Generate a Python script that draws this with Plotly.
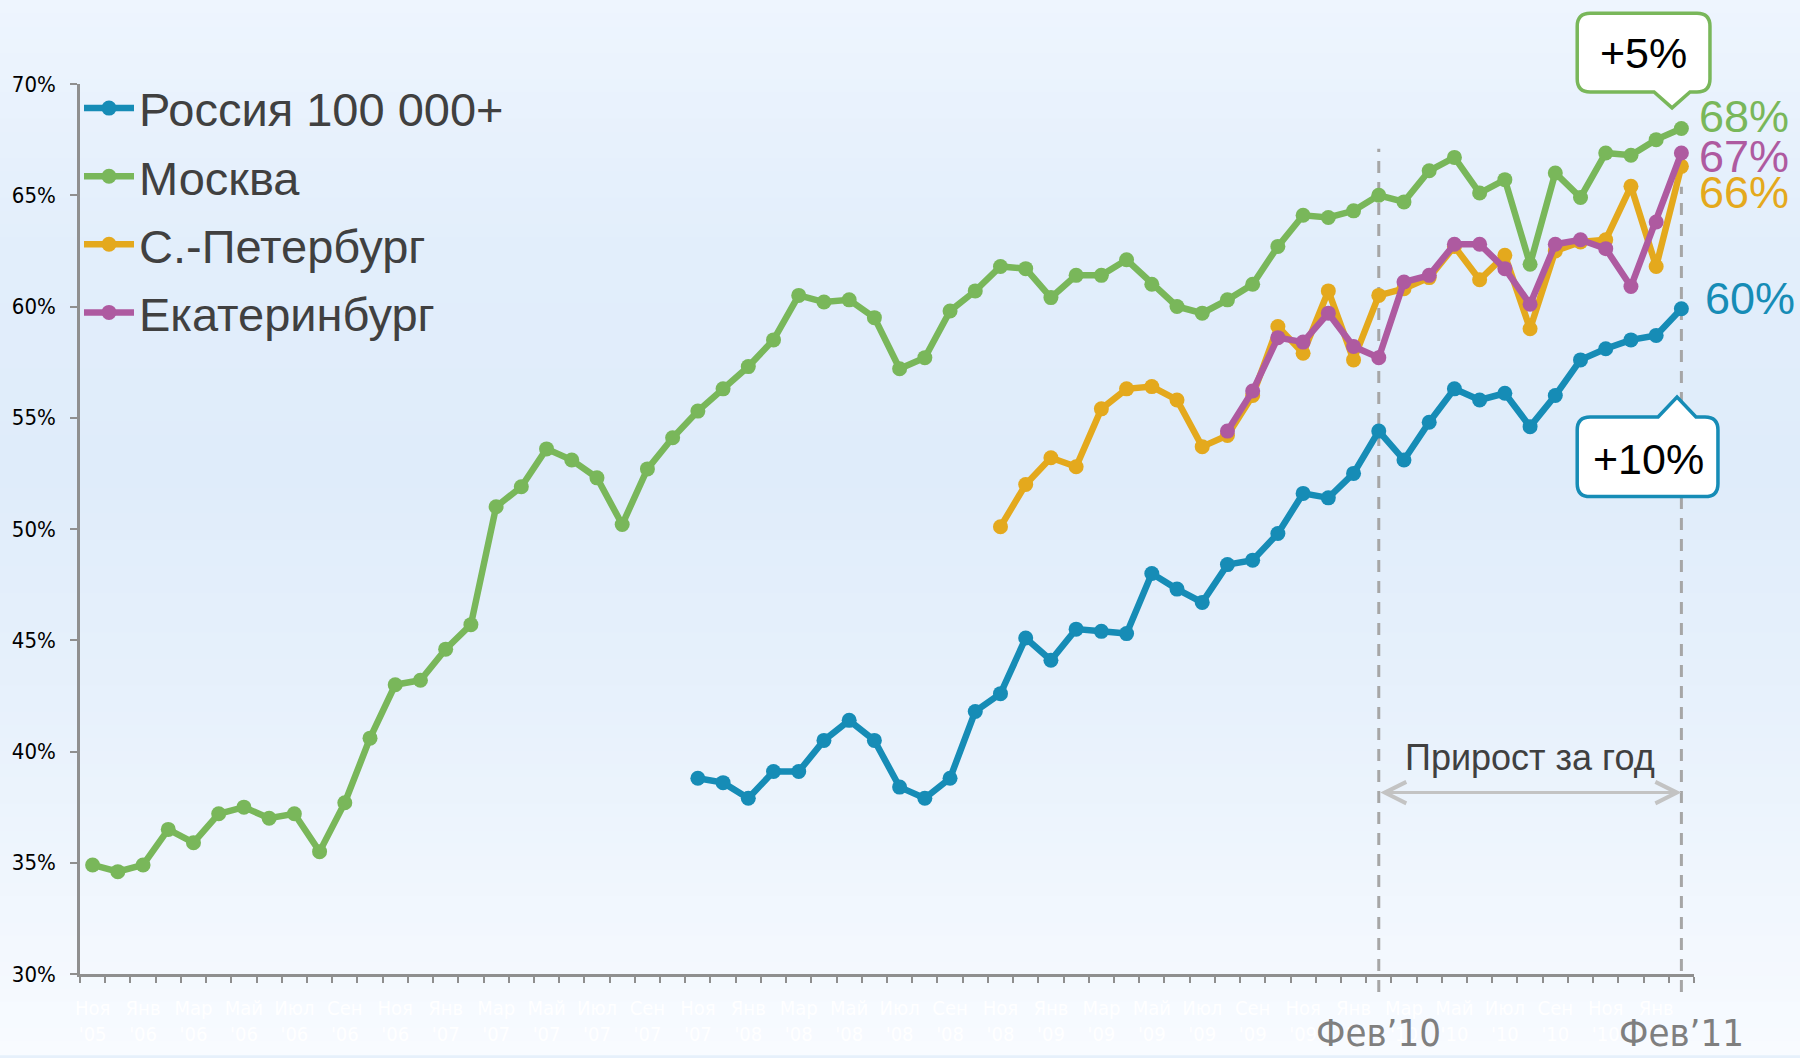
import plotly.graph_objects as go

# ---------------- data ----------------
months = ["Ноя '05", "Дек '05", "Янв '06", "Фев '06", "Мар '06", "Апр '06", "Май '06", "Июн '06",
          "Июл '06", "Авг '06", "Сен '06", "Окт '06", "Ноя '06", "Дек '06", "Янв '07", "Фев '07",
          "Мар '07", "Апр '07", "Май '07", "Июн '07", "Июл '07", "Авг '07", "Сен '07", "Окт '07",
          "Ноя '07", "Дек '07", "Янв '08", "Фев '08", "Мар '08", "Апр '08", "Май '08", "Июн '08",
          "Июл '08", "Авг '08", "Сен '08", "Окт '08", "Ноя '08", "Дек '08", "Янв '09", "Фев '09",
          "Мар '09", "Апр '09", "Май '09", "Июн '09", "Июл '09", "Авг '09", "Сен '09", "Окт '09",
          "Ноя '09", "Дек '09", "Янв '10", "Фев '10", "Мар '10", "Апр '10", "Май '10", "Июн '10",
          "Июл '10", "Авг '10", "Сен '10", "Окт '10", "Ноя '10", "Дек '10", "Янв '11", "Фев '11"]

tick_labels = ["Ноя<br>'05", "Янв<br>'06", "Мар<br>'06", "Май<br>'06", "Июл<br>'06", "Сен<br>'06",
               "Ноя<br>'06", "Янв<br>'07", "Мар<br>'07", "Май<br>'07", "Июл<br>'07", "Сен<br>'07",
               "Ноя<br>'07", "Янв<br>'08", "Мар<br>'08", "Май<br>'08", "Июл<br>'08", "Сен<br>'08",
               "Ноя<br>'08", "Янв<br>'09", "Мар<br>'09", "Май<br>'09", "Июл<br>'09", "Сен<br>'09",
               "Ноя<br>'09", "Янв<br>'10", "Мар<br>'10", "Май<br>'10", "Июл<br>'10", "Сен<br>'10",
               "Ноя<br>'10", "Янв<br>'11"]

moscow = [34.9, 34.6, 34.9, 36.5, 35.9, 37.2, 37.5, 37.0, 37.2, 35.5, 37.7, 40.6, 43.0, 43.2, 44.6, 45.7,
          51.0, 51.9, 53.6, 53.1, 52.3, 50.2, 52.7, 54.1, 55.3, 56.3, 57.3, 58.5, 60.5, 60.2, 60.3, 59.5,
          57.2, 57.7, 59.8, 60.7, 61.8, 61.7, 60.4, 61.4, 61.4, 62.1, 61.0, 60.0, 59.7, 60.3, 61.0, 62.7,
          64.1, 64.0, 64.3, 65.0, 64.7, 66.1, 66.7, 65.1, 65.7, 61.9, 66.0, 64.9, 66.9, 66.8, 67.5, 68.0]

russia_start = 24
russia = [38.8, 38.6, 37.9, 39.1, 39.1, 40.5, 41.4, 40.5, 38.4, 37.9, 38.8, 41.8, 42.6, 45.1, 44.1, 45.5,
          45.4, 45.3, 48.0, 47.3, 46.7, 48.4, 48.6, 49.8, 51.6, 51.4, 52.5, 54.4, 53.1, 54.8, 56.3, 55.8,
          56.1, 54.6, 56.0, 57.6, 58.1, 58.5, 58.7, 59.9]

spb_start = 36
spb = [50.1, 52.0, 53.2, 52.8, 55.4, 56.3, 56.4, 55.8, 53.7, 54.2, 56.0, 59.1, 57.9, 60.7, 57.6, 60.5,
       60.8, 61.3, 62.7, 61.2, 62.3, 59.0, 62.5, 62.9, 63.0, 65.4, 61.8, 66.3]

ekb_start = 45
ekb = [54.4, 56.2, 58.6, 58.4, 59.7, 58.2, 57.7, 61.1, 61.4, 62.8, 62.8, 61.7, 60.1, 62.8, 63.0, 62.6,
       60.9, 63.8, 66.9]

series_names = ["Россия 100 000+", "Москва", "С.-Петербург", "Екатеринбург"]
series_colors = ["#168cb6", "#79b75a", "#e4a91d", "#ae5aa0"]
growth_labels = ["+5%", "+10%"]
period_label = "Прирост за год"
marker_labels = ["Фев’10", "Фев’11"]

# ---------------- geometry helpers ----------------
FW, FH = 1800, 1058
ML, MR, MT, MB = 77, 106, 84, 81
PW, PH = FW - ML - MR, FH - MT - MB


def px(xf):
    return (xf - ML) / PW


def py(yf):
    return (FH - MB - yf) / PH


x_all = list(range(len(months)))

fig = go.Figure()
series = [(russia_start, russia), (0, moscow), (spb_start, spb), (ekb_start, ekb)]
for (start, vals), name, col in zip(series, series_names, series_colors):
    fig.add_trace(go.Scatter(
        x=x_all[start:start + len(vals)], y=vals, name=name, mode="lines+markers",
        line=dict(color=col, width=6.5), marker=dict(color=col, size=15),
        legendgroup=name, cliponaxis=False, hoverinfo="x+y+name"))

shapes = []
# gradient background
stops = [(0, (0xee, 0xf5, 0xfe)), (250, (0xe2, 0xee, 0xfb)), (480, (0xdf, 0xec, 0xfa)),
         (750, (0xe9, 0xf2, 0xfc)), (1058, (0xf8, 0xfb, 0xff))]
N = 80
for k in range(N):
    y0 = FH * k / N
    y1 = FH * (k + 1) / N
    ym = (y0 + y1) / 2
    for (a, ca), (b, cb) in zip(stops[:-1], stops[1:]):
        if a <= ym <= b:
            t = (ym - a) / (b - a)
            c = tuple(round(ca[j] + (cb[j] - ca[j]) * t) for j in range(3))
            break
    shapes.append(dict(type="rect", xref="paper", yref="paper", x0=px(-5), x1=px(FW + 5),
                       y0=py(y1 + 0.5), y1=py(y0 - 0.5), fillcolor="rgb(%d,%d,%d)" % c,
                       line=dict(width=0), layer="below"))

# dashed year markers
for xi, top in ((51, 149), (63, 187)):
    shapes.append(dict(type="line", xref="x", yref="paper", x0=xi, x1=xi, y0=py(995), y1=py(top),
                       line=dict(color="#a6a6a6", width=3, dash="12px,9px"), layer="below"))


def callout(x0, y0, x1, y1, r, tip, base, side):
    tx, ty = tip
    b0, b1 = base
    pts = []
    pts.append("M%.5f,%.5f" % (px(x0 + r), py(y0)))
    if side == "top":
        pts.append("L%.5f,%.5f" % (px(b0), py(y0)))
        pts.append("L%.5f,%.5f" % (px(tx), py(ty)))
        pts.append("L%.5f,%.5f" % (px(b1), py(y0)))
    pts.append("L%.5f,%.5f" % (px(x1 - r), py(y0)))
    pts.append("Q%.5f,%.5f %.5f,%.5f" % (px(x1), py(y0), px(x1), py(y0 + r)))
    pts.append("L%.5f,%.5f" % (px(x1), py(y1 - r)))
    pts.append("Q%.5f,%.5f %.5f,%.5f" % (px(x1), py(y1), px(x1 - r), py(y1)))
    if side == "bottom":
        pts.append("L%.5f,%.5f" % (px(b1), py(y1)))
        pts.append("L%.5f,%.5f" % (px(tx), py(ty)))
        pts.append("L%.5f,%.5f" % (px(b0), py(y1)))
    pts.append("L%.5f,%.5f" % (px(x0 + r), py(y1)))
    pts.append("Q%.5f,%.5f %.5f,%.5f" % (px(x0), py(y1), px(x0), py(y1 - r)))
    pts.append("L%.5f,%.5f" % (px(x0), py(y0 + r)))
    pts.append("Q%.5f,%.5f %.5f,%.5f" % (px(x0), py(y0), px(x0 + r), py(y0)))
    pts.append("Z")
    return " ".join(pts)


shapes.append(dict(type="path", xref="paper", yref="paper",
                   path=callout(1577, 13, 1710, 92, 13, (1672, 108), (1654, 1690), "bottom"),
                   fillcolor="white", line=dict(color=series_colors[1], width=3.5), layer="above"))
shapes.append(dict(type="path", xref="paper", yref="paper",
                   path=callout(1577, 418, 1718, 498, 13, (1677, 398), (1658, 1696), "top"),
                   fillcolor="white", line=dict(color=series_colors[0], width=3.5), layer="above"))

annotations = []
callout_font = dict(family="Liberation Sans, Arial, sans-serif", size=43, color="black")
annotations.append(dict(xref="paper", yref="paper", x=px(1643), y=py(53), text=growth_labels[0],
                        showarrow=False, font=callout_font, xanchor="center", yanchor="middle"))
annotations.append(dict(xref="paper", yref="paper", x=px(1648), y=py(460), text=growth_labels[1],
                        showarrow=False, font=callout_font, xanchor="center", yanchor="middle"))

# end value labels
end_vals = [russia[-1], moscow[-1], spb[-1], ekb[-1]]
yshifts = [10, 12, -26, -4]
xshifts = [22, 16, 16, 16]
for v, col, ys, xs in zip(end_vals, series_colors, yshifts, xshifts):
    annotations.append(dict(x=len(months) - 1, y=v, xref="x", yref="y", text="%d%%" % round(v),
                            showarrow=False, xanchor="left", yanchor="middle", xshift=xs, yshift=ys,
                            font=dict(family="Liberation Sans, Arial, sans-serif", size=45, color=col)))

# period arrow and label
annotations.append(dict(x=63, y=py(795), xref="x", yref="paper", ax=51, ay=0, axref="x", ayref="pixel",
                        text="", showarrow=True, arrowside="end+start", arrowhead=5, startarrowhead=5,
                        arrowsize=1.4, startarrowsize=1.4, arrowwidth=3, arrowcolor="#c3c3c3",
                        standoff=0, startstandoff=0))
annotations.append(dict(x=57, y=py(760), xref="x", yref="paper", text=period_label, showarrow=False,
                        xanchor="center", yanchor="middle",
                        font=dict(family="Liberation Sans, Arial, sans-serif", size=36, color="#404040")))

for xi, lab in zip((51, 63), marker_labels):
    annotations.append(dict(x=xi, y=py(1036), xref="x", yref="paper", text=lab, showarrow=False,
                            xanchor="center", yanchor="middle",
                            font=dict(family="Liberation Sans Narrow, DejaVu Sans Condensed, Liberation Sans, sans-serif",
                                      size=38, color="#7f7f7f")))

fig.update_layout(
    width=FW, height=FH,
    margin=dict(l=ML, r=MR, t=MT, b=MB, pad=0),
    paper_bgcolor="#e6f0fb", plot_bgcolor="rgba(0,0,0,0)",
    showlegend=True,
    legend=dict(x=px(76), y=py(71), xanchor="left", yanchor="top", bgcolor="rgba(0,0,0,0)",
                font=dict(family="Liberation Sans, Arial, sans-serif", size=47, color="#404040"),
                traceorder="grouped", tracegroupgap=4, itemwidth=50),
    shapes=shapes, annotations=annotations,
    xaxis=dict(range=[-0.5, len(months) - 0.5], showgrid=False, zeroline=False,
               showline=True, linecolor="#8f8f8f", linewidth=2.5,
               tickmode="array", tickvals=x_all[::2], ticktext=tick_labels, ticks="",
               tickfont=dict(family="Liberation Sans Narrow, DejaVu Sans Condensed, Liberation Sans, sans-serif",
                             size=20, color="#ffffff"),
               ticklabelstandoff=14,
               minor=dict(ticks="outside", ticklen=6, tickwidth=2, tickcolor="#8f8f8f",
                          tick0=-0.5, dtick=1, showgrid=False)),
    yaxis=dict(range=[30, 70], showgrid=False, zeroline=False, showline=True, linecolor="#8f8f8f",
               linewidth=2.5, tickmode="linear", tick0=30, dtick=5, ticksuffix="%",
               ticks="outside", ticklen=7, tickwidth=2, tickcolor="#8f8f8f",
               tickfont=dict(family="Liberation Sans Narrow, DejaVu Sans Condensed, Liberation Sans, sans-serif",
                             size=22, color="black"),
               ticklabelstandoff=10),
)

fig.write_html("out.html", config={"displayModeBar": False},
               post_script="document.body.style.margin='0';document.body.style.overflow='hidden';")
